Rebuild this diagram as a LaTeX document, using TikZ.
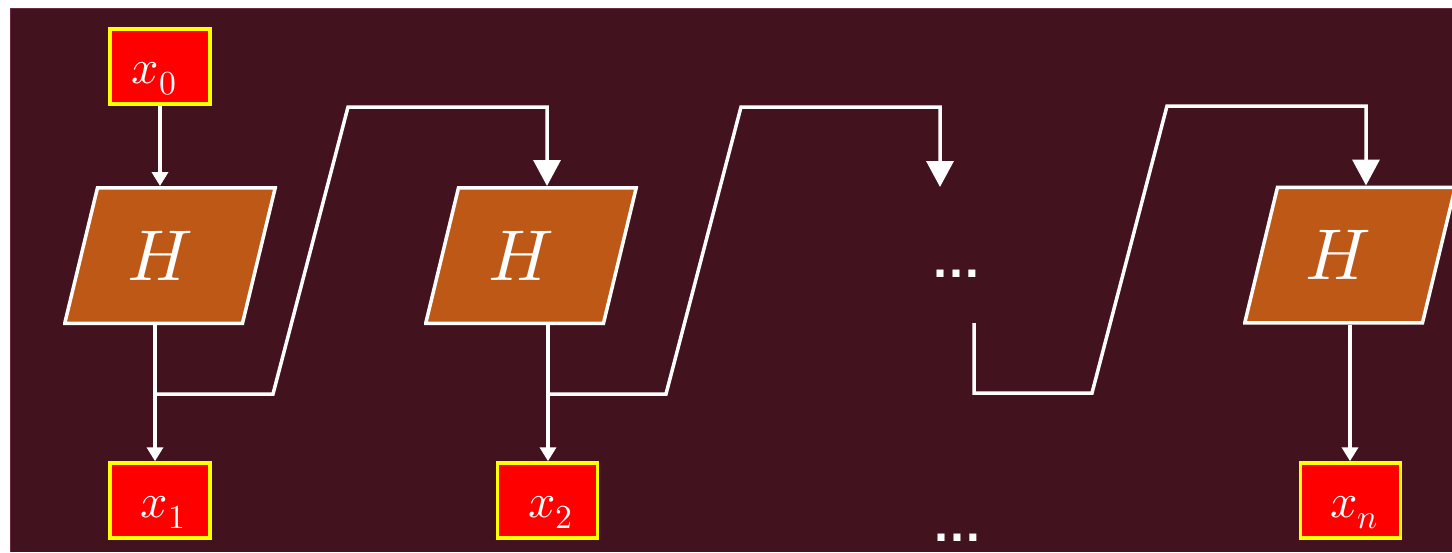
\documentclass[tikz,border=0pt]{standalone}
\usepackage{fontspec}
\usepackage{unicode-math}
\setmathfont{Latin Modern Math}
\newfontfamily\dotsfont{Liberation Sans}
\usetikzlibrary{arrows.meta}
\definecolor{bgmaroon}{HTML}{43121F}
\definecolor{bgedge}{HTML}{6E2A40}
\definecolor{blockorange}{HTML}{BE5817}
\definecolor{boxred}{HTML}{FF0000}
\definecolor{boxyellow}{HTML}{FFFF00}

\begin{document}
\begin{tikzpicture}[x=1pt,y=-1pt,
  varbox/.style={draw=boxyellow, fill=boxred, line width=3.5pt,
    minimum width=100pt, minimum height=75pt, inner sep=0pt,
    text height=33pt, text depth=0pt,
    text=white, font=\fontsize{48}{50}\selectfont},
  % slanted processing block: the node is the bounding rectangle,
  % the parallelogram is painted inside it
  hblock/.style={rectangle, minimum width=214pt, minimum height=139pt,
    inner sep=0pt, outer sep=0pt, text=white,
    font=\fontsize{72}{76}\selectfont,
    path picture={
      \filldraw[fill=blockorange, draw=white, line width=3.5pt]
        ([xshift=34.5pt,yshift=-1.75pt]path picture bounding box.north west)
        -- ([xshift=-1.75pt,yshift=-1.75pt]path picture bounding box.north east)
        -- ([xshift=-34.5pt,yshift=1.75pt]path picture bounding box.south east)
        -- ([xshift=1.75pt,yshift=1.75pt]path picture bounding box.south west)
        -- cycle;
    }},
  flow/.style={draw=white, line width=3.5pt},
  smallhead/.style={-{Triangle[width=16pt,length=14pt]}},
  bighead/.style={-{Triangle[width=27pt,length=26pt]}},
  gapdots/.style={text=white, inner sep=0pt, anchor=base,
    font=\dotsfont\bfseries\fontsize{50}{52}\selectfont}
]
\useasboundingbox (0,0) rectangle (1452,552);
\clip (0,0) rectangle (1452,552);
\fill[white] (0,0) rectangle (1452,552);

% panel
\fill[bgmaroon] (10,8) rectangle (1452,552);
\draw[bgedge, line width=1pt] (10.5,552) -- (10.5,8.5) -- (1452,8.5);

% blocks
\node[varbox] (x0) at (160,66.5) {\hspace*{-12pt}$x_0$};
\node[hblock] (h1) at (170,255.5) {\hspace*{-20pt}$H$};
\node[varbox] (x1) at (160,500.5) {\hspace*{6pt}$x_1$};

\node[hblock] (h2) at (531,255.5) {\hspace*{-20pt}$H$};
\node[varbox] (x2) at (547.5,500.5) {\hspace*{6pt}$x_2$};

\node[gapdots] (gapmid) at (956,277) {…};
\node[gapdots] (gapbot) at (957,541) {…};

\node[hblock] (hn) at (1350,255) {\hspace*{-24pt}$H$};
\node[varbox] (xn) at (1350.5,500.5) {\hspace*{8pt}$x_n$};

% routing points
\coordinate (s1) at (155,394);
\coordinate (b1a) at (273,394);
\coordinate (b1b) at (348,107);
\coordinate (t2) at (547,107);

\coordinate (s2) at (548,394);
\coordinate (b2a) at (666,394);
\coordinate (b2b) at (741,107);
\coordinate (t3) at (940,107);
\coordinate (gapin) at (940,187);

\coordinate (gapout) at (974,323);
\coordinate (b3o) at (974,393);
\coordinate (b3a) at (1092,393);
\coordinate (b3b) at (1167,106);
\coordinate (tn) at (1366,106);

% stage 1
\draw[flow, smallhead] (x0) -- (x0 |- h1.north);
\draw[flow, smallhead] (h1.south -| s1) -- (x1.north -| s1);
\draw[flow, bighead] (s1) -- (b1a) -- (b1b) -- (t2) -- (t2 |- h2.north);

% stage 2
\draw[flow, smallhead] (h2.south -| s2) -- (x2.north -| s2);
\draw[flow, bighead] (s2) -- (b2a) -- (b2b) -- (t3) -- (gapin);

% last stage
\draw[flow, bighead] (gapout) -- (b3o) -- (b3a) -- (b3b) -- (tn) -- (tn |- hn.north);
\draw[flow, smallhead] (hn.south) -- (hn.south |- xn.north);
\end{tikzpicture}
\end{document}
